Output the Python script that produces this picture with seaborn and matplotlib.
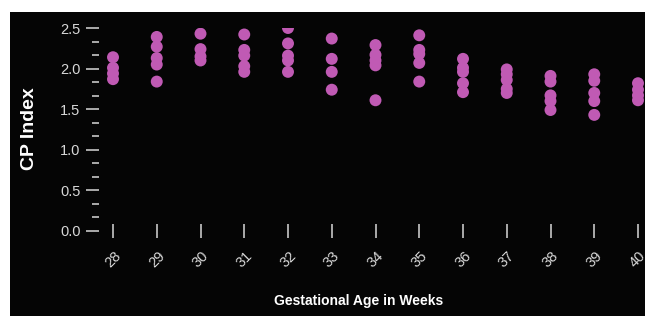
import matplotlib
matplotlib.use("Agg")
import matplotlib.pyplot as plt
from matplotlib.patches import Rectangle
from matplotlib.ticker import MultipleLocator
import seaborn as sns
import pandas as pd

# CP index readings per gestational week
weeks = [28, 29, 30, 31, 32, 33, 34, 35, 36, 37, 38, 39, 40]
cp_28 = [2.14, 2.01, 1.94, 1.87]
cp_29 = [2.39, 2.27, 2.13, 2.05, 1.84]
cp_30 = [2.43, 2.24, 2.15, 2.10]
cp_31 = [2.42, 2.23, 2.16, 2.03, 1.96]
cp_32 = [2.50, 2.31, 2.16, 2.10, 1.96]
cp_33 = [2.37, 2.12, 1.96, 1.74]
cp_34 = [2.29, 2.17, 2.10, 2.04, 1.61]
cp_35 = [2.41, 2.23, 2.18, 2.07, 1.84]
cp_36 = [2.12, 2.01, 1.96, 1.82, 1.71]
cp_37 = [1.99, 1.93, 1.86, 1.75, 1.70]
cp_38 = [1.91, 1.84, 1.67, 1.60, 1.49]
cp_39 = [1.93, 1.85, 1.70, 1.60, 1.43]
cp_40 = [1.82, 1.74, 1.67, 1.61]
y_ticks = [0.0, 0.5, 1.0, 1.5, 2.0, 2.5]

series = [cp_28, cp_29, cp_30, cp_31, cp_32, cp_33, cp_34,
          cp_35, cp_36, cp_37, cp_38, cp_39, cp_40]
rows = []
for w, vals in zip(weeks, series):
    for v in vals:
        rows.append({"week": w, "cp": v})
df = pd.DataFrame(rows)

sns.set_style("dark")
plt.rcParams["font.family"] = ["Liberation Sans", "DejaVu Sans"]

W, H = 645, 316
fig = plt.figure(figsize=(W / 100, H / 100), dpi=100)
fig.patch.set_facecolor("white")
fig.patches.append(Rectangle((10 / W, 0), 1, (H - 12) / H, transform=fig.transFigure,
                             facecolor="#050505", edgecolor="none", zorder=-10))

ax = fig.add_axes([99 / W, (H - 231) / H, (W - 99) / W, 203 / H])
ax.set_facecolor("none")

sns.scatterplot(data=df, x="week", y="cp", color="#c05ab4", s=74,
                edgecolor="none", ax=ax, zorder=3)

ax.set_xlim(27.68, 40.16)
ax.set_ylim(0, 2.5)
ax.set_xticks(weeks)
ax.set_xticklabels([str(w) for w in weeks], rotation=45, ha="center")
ax.set_yticks(y_ticks)
ax.set_yticklabels([f"{t:.1f}" for t in y_ticks])
ax.yaxis.set_minor_locator(MultipleLocator(0.5 / 3))

tick_col = "#d8d8d8"
ax.tick_params(axis="x", direction="inout", length=9.4, width=1.1, color=tick_col,
               labelcolor=tick_col, labelsize=10.5, pad=8, bottom=True)
ax.tick_params(axis="y", which="major", direction="out", length=9.4, width=1.1,
               color=tick_col, labelcolor=tick_col, labelsize=10.5, pad=4, left=True)
ax.tick_params(axis="y", which="minor", direction="out", length=5, width=1.1,
               color=tick_col, left=True)

for sp in ax.spines.values():
    sp.set_visible(False)
ax.grid(False)
ax.set_xlabel("")
ax.set_ylabel("")

fig.text(30 / W, 1 - 129 / H, "CP Index", rotation=90, ha="center", va="center",
         color="white", fontsize=14, fontweight="bold")
fig.text(359 / W, 1 - 301 / H, "Gestational Age in Weeks", ha="center", va="center",
         color="white", fontsize=10, fontweight="bold")

fig.savefig("out.png", dpi=100, facecolor=fig.get_facecolor())
